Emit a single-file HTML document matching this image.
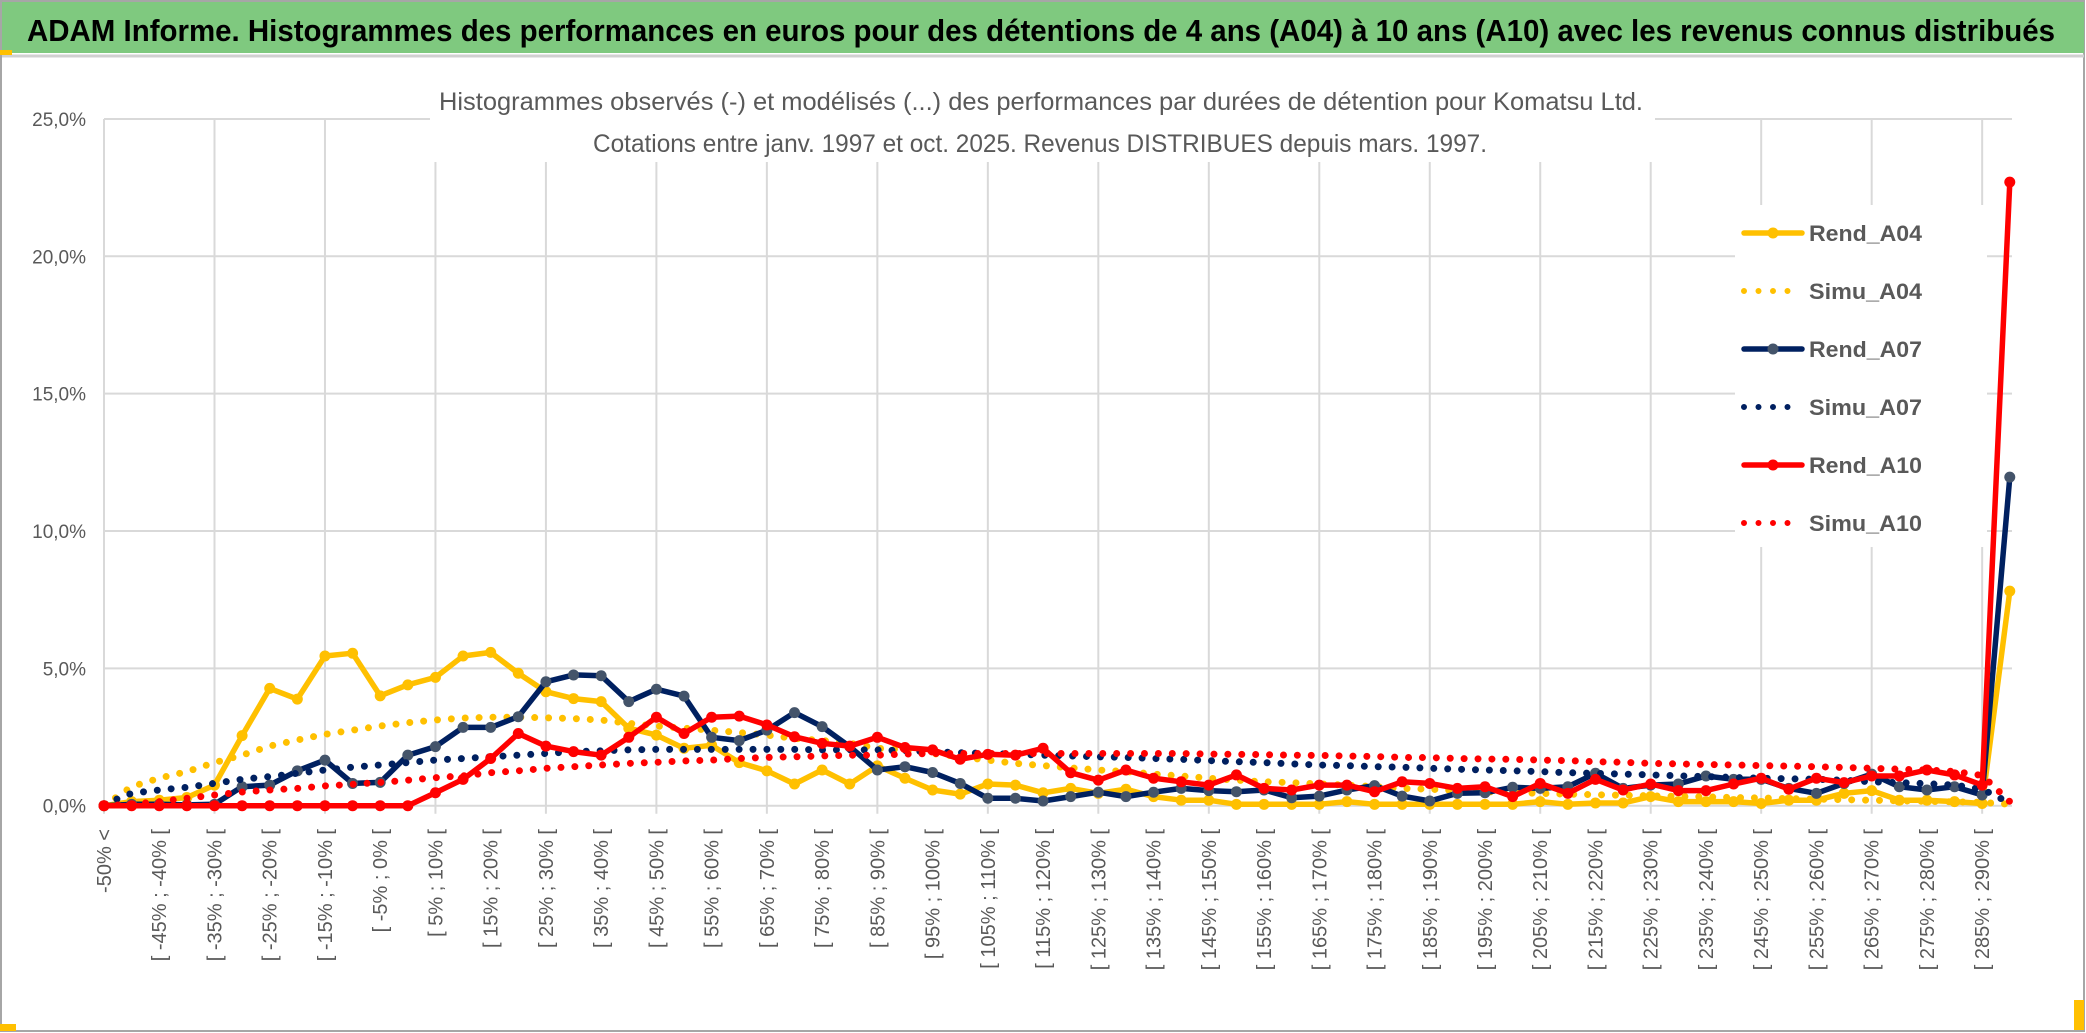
<!DOCTYPE html>
<html><head><meta charset="utf-8"><style>
html,body{margin:0;padding:0;background:#fff;}
svg{display:block;font-family:"Liberation Sans",sans-serif;}
</style></head><body>
<svg id="chart" width="2086" height="1033" viewBox="0 0 2086 1033" xmlns="http://www.w3.org/2000/svg">
<rect x="0" y="0" width="2086" height="1033" fill="#fff"/>
<rect x="1" y="1" width="2083" height="1030" fill="none" stroke="#a6a6a6" stroke-width="2"/>
<rect x="2" y="2" width="2082" height="51" fill="#7fc97f"/>
<line x1="2" y1="56" x2="2084" y2="56" stroke="#d0d0d0" stroke-width="3"/>
<text x="27" y="41" font-size="31" font-weight="bold" fill="#000" textLength="2028" lengthAdjust="spacingAndGlyphs">ADAM Informe. Histogrammes des performances en euros pour des détentions de 4 ans (A04) à 10 ans (A10) avec les revenus connus distribués</text>
<rect x="0" y="50" width="12" height="5" fill="#ffc000"/>
<rect x="0" y="1024" width="16" height="7" fill="#ffc000"/>
<rect x="2074" y="1000" width="10" height="30" fill="#ffc000"/>
<g id="grid"></g>
<rect x="430" y="78" width="1225" height="84" fill="#fff"/>
<text x="439" y="110" font-size="25" fill="#595959" textLength="1204" lengthAdjust="spacingAndGlyphs">Histogrammes observés (-) et modélisés (...) des performances par durées de détention pour Komatsu Ltd.</text>
<text x="593" y="152" font-size="25" fill="#595959" textLength="894" lengthAdjust="spacingAndGlyphs">Cotations entre janv. 1997 et oct. 2025. Revenus DISTRIBUES depuis mars. 1997.</text>
<rect x="1735" y="205" width="252" height="342" fill="#fff"/>
<g id="yticks"></g>
<g id="xticks"></g>
<g id="series"></g>
<g id="legend"></g>
</svg>
<script>
const categories = ["-50% <","[ -50% ; -45% [","[ -45% ; -40% [","[ -40% ; -35% [","[ -35% ; -30% [","[ -30% ; -25% [","[ -25% ; -20% [","[ -20% ; -15% [","[ -15% ; -10% [","[ -10% ; -5% [","[ -5% ; 0% [","[ 0% ; 5% [","[ 5% ; 10% [","[ 10% ; 15% [","[ 15% ; 20% [","[ 20% ; 25% [","[ 25% ; 30% [","[ 30% ; 35% [","[ 35% ; 40% [","[ 40% ; 45% [","[ 45% ; 50% [","[ 50% ; 55% [","[ 55% ; 60% [","[ 60% ; 65% [","[ 65% ; 70% [","[ 70% ; 75% [","[ 75% ; 80% [","[ 80% ; 85% [","[ 85% ; 90% [","[ 90% ; 95% [","[ 95% ; 100% [","[ 100% ; 105% [","[ 105% ; 110% [","[ 110% ; 115% [","[ 115% ; 120% [","[ 120% ; 125% [","[ 125% ; 130% [","[ 130% ; 135% [","[ 135% ; 140% [","[ 140% ; 145% [","[ 145% ; 150% [","[ 150% ; 155% [","[ 155% ; 160% [","[ 160% ; 165% [","[ 165% ; 170% [","[ 170% ; 175% [","[ 175% ; 180% [","[ 180% ; 185% [","[ 185% ; 190% [","[ 190% ; 195% [","[ 195% ; 200% [","[ 200% ; 205% [","[ 205% ; 210% [","[ 210% ; 215% [","[ 215% ; 220% [","[ 220% ; 225% [","[ 225% ; 230% [","[ 230% ; 235% [","[ 235% ; 240% [","[ 240% ; 245% [","[ 245% ; 250% [","[ 250% ; 255% [","[ 255% ; 260% [","[ 260% ; 265% [","[ 265% ; 270% [","[ 270% ; 275% [","[ 275% ; 280% [","[ 280% ; 285% [","[ 285% ; 290% [","> 290%"];
const yTicks = [0,5,10,15,20,25];
const yTickLabels = ["0,0%","5,0%","10,0%","15,0%","20,0%","25,0%"];
const rendA04 = [0,0.15,0.2,0.3,0.75,2.55,4.27,3.88,5.45,5.55,4.0,4.4,4.67,5.45,5.58,4.82,4.15,3.9,3.79,2.82,2.57,2.09,2.2,1.57,1.27,0.79,1.3,0.79,1.45,1.0,0.57,0.42,0.79,0.75,0.47,0.63,0.45,0.6,0.33,0.2,0.2,0.05,0.05,0.05,0.05,0.15,0.05,0.05,0.05,0.05,0.05,0.05,0.15,0.05,0.1,0.1,0.33,0.15,0.15,0.15,0.08,0.2,0.2,0.45,0.55,0.2,0.2,0.15,0.08,7.81];
const simuA04 = [0,0.69,1.0,1.24,1.57,1.84,2.17,2.39,2.6,2.75,2.9,3.02,3.12,3.19,3.22,3.22,3.2,3.17,3.12,3.0,2.9,2.82,2.75,2.66,2.57,2.45,2.37,2.27,2.09,2.03,1.9,1.78,1.66,1.54,1.46,1.38,1.3,1.24,1.15,1.08,1.0,0.93,0.87,0.84,0.79,0.75,0.69,0.63,0.6,0.55,0.51,0.47,0.45,0.42,0.4,0.38,0.36,0.34,0.32,0.3,0.28,0.26,0.24,0.22,0.2,0.18,0.16,0.14,0.12,0.05];
const rendA07 = [0,0.05,0.05,0.03,0.05,0.69,0.75,1.27,1.66,0.81,0.85,1.84,2.15,2.85,2.85,3.24,4.51,4.76,4.73,3.79,4.24,3.99,2.49,2.37,2.75,3.39,2.88,2.15,1.3,1.42,1.21,0.81,0.27,0.27,0.17,0.33,0.49,0.33,0.49,0.63,0.55,0.51,0.57,0.29,0.35,0.57,0.73,0.35,0.17,0.45,0.47,0.67,0.63,0.69,1.18,0.63,0.75,0.79,1.08,0.96,0.96,0.63,0.45,0.81,1.15,0.69,0.57,0.69,0.39,11.96];
const simuA07 = [0.05,0.45,0.57,0.67,0.81,0.96,1.06,1.18,1.3,1.4,1.48,1.57,1.66,1.72,1.78,1.84,1.9,1.97,2.0,2.03,2.05,2.05,2.05,2.05,2.05,2.05,2.03,2.03,2.03,2.0,1.97,1.93,1.9,1.88,1.84,1.81,1.78,1.76,1.72,1.69,1.64,1.6,1.57,1.52,1.48,1.46,1.42,1.4,1.36,1.33,1.3,1.27,1.24,1.2,1.18,1.15,1.12,1.09,1.06,1.03,1.0,0.98,0.96,0.93,0.87,0.84,0.8,0.75,0.6,0.1];
const rendA10 = [0,0,0,0,0,0,0,0,0,0,0,0,0.47,0.96,1.72,2.63,2.17,1.97,1.84,2.49,3.22,2.63,3.22,3.26,2.94,2.51,2.27,2.17,2.49,2.12,2.03,1.69,1.87,1.84,2.09,1.2,0.93,1.3,1.0,0.87,0.75,1.12,0.63,0.57,0.75,0.75,0.51,0.87,0.81,0.63,0.69,0.33,0.81,0.45,0.96,0.57,0.79,0.55,0.55,0.79,1.0,0.6,1.0,0.84,1.08,1.08,1.3,1.12,0.75,22.7];
const simuA10 = [0,0.05,0.15,0.27,0.39,0.5,0.57,0.63,0.72,0.78,0.85,0.93,1.02,1.09,1.2,1.27,1.36,1.42,1.48,1.54,1.58,1.63,1.66,1.72,1.76,1.78,1.81,1.84,1.84,1.88,1.9,1.9,1.9,1.9,1.9,1.9,1.9,1.9,1.9,1.9,1.88,1.87,1.86,1.84,1.83,1.81,1.79,1.76,1.75,1.72,1.7,1.69,1.66,1.64,1.6,1.58,1.54,1.52,1.5,1.48,1.46,1.44,1.42,1.39,1.36,1.33,1.3,1.25,1.1,0.15];
const seriesNames = ["Rend_A04","Simu_A04","Rend_A07","Simu_A07","Rend_A10","Simu_A10"];

const NS = "http://www.w3.org/2000/svg";
const X0 = 104, DX = 27.62, Y0 = 805.7, KY = 27.47, XEND = 2012;
function xScale(i){ return X0 + i*DX; }
function yScale(v){ return Y0 - v*KY; }
function mk(tag, attrs, parent){
  const e = document.createElementNS(NS, tag);
  for (const k in attrs) e.setAttribute(k, attrs[k]);
  parent.appendChild(e);
  return e;
}
const grid = document.getElementById('grid');
yTicks.forEach(function(t){
  const l = mk('line', {x1:X0, x2:XEND, y1:yScale(t), y2:yScale(t), stroke:'#d9d9d9', 'stroke-width':2}, grid);
  
  
});
for (let i = 0; i < categories.length; i += 4){
  const l = mk('line', {x1:xScale(i), x2:xScale(i), y1:yScale(25), y2:Y0+8, stroke:'#d9d9d9', 'stroke-width':2}, grid);
  
  
}
const yt = document.getElementById('yticks');
yTicks.forEach(function(t, k){
  const tx = mk('text', {x:86, y:yScale(t)+7, 'text-anchor':'end', 'font-size':19, fill:'#595959'}, yt);
  tx.textContent = yTickLabels[k];
  
  
});
const xt = document.getElementById('xticks');
categories.forEach(function(c, i){
  if (i % 2 !== 0 || i > 68) return;
  const x = xScale(i) + 7, y = 829;
  const tx = mk('text', {x:x, y:y, 'text-anchor':'end', 'font-size':20, fill:'#595959', transform:'rotate(-90 '+x+' '+y+')'}, xt);
  tx.textContent = c;
  
  
});
const sg = document.getElementById('series');
function pts(arr){ return arr.map(function(v,i){ return xScale(i).toFixed(1)+','+yScale(v).toFixed(1); }).join(' '); }
function rend(arr, color, marker, name){
  const g = mk('g', {}, sg);
  
  
  mk('polyline', {points:pts(arr), fill:'none', stroke:color, 'stroke-width':5.5, 'stroke-linejoin':'round'}, g);
  arr.forEach(function(v,i){
    const c = mk('circle', {cx:xScale(i), cy:yScale(v), r:5.5, fill:marker}, g);
    
    
  });
}
function simu(arr, color, name){
  const p = mk('polyline', {points:pts(arr), fill:'none', stroke:color, 'stroke-width':7, 'stroke-linecap':'round', 'stroke-dasharray':'0 13.9'}, sg);
  
  
}
rend(rendA04, '#ffc000', '#ffc000', 'series-rend-a04');
simu(simuA04, '#ffc000', 'series-simu-a04');
rend(rendA07, '#002060', '#44546a', 'series-rend-a07');
simu(simuA07, '#002060', 'series-simu-a07');
rend(rendA10, '#ff0000', '#ff0000', 'series-rend-a10');
simu(simuA10, '#ff0000', 'series-simu-a10');

const lg = document.getElementById('legend');
const legColors = ['#ffc000','#ffc000','#002060','#002060','#ff0000','#ff0000'];
const legMarkers = ['#ffc000',null,'#44546a',null,'#ff0000',null];
seriesNames.forEach(function(n, k){
  const y = 233 + k*58;
  const g = mk('g', {}, lg);
  
  
  if (legMarkers[k]){
    mk('line', {x1:1744, x2:1802, y1:y, y2:y, stroke:legColors[k], 'stroke-width':5.5, 'stroke-linecap':'round'}, g);
    mk('circle', {cx:1773, cy:y, r:5.5, fill:legMarkers[k]}, g);
  } else {
    mk('line', {x1:1744, x2:1802, y1:y, y2:y, stroke:legColors[k], 'stroke-width':6, 'stroke-linecap':'round', 'stroke-dasharray':'0 14.5'}, g);
  }
  const t = mk('text', {x:1809, y:y+8, 'font-size':22, 'font-weight':'bold', fill:'#595959', textLength:113, lengthAdjust:'spacingAndGlyphs'}, g);
  t.textContent = n;
});
</script>
</body></html>
